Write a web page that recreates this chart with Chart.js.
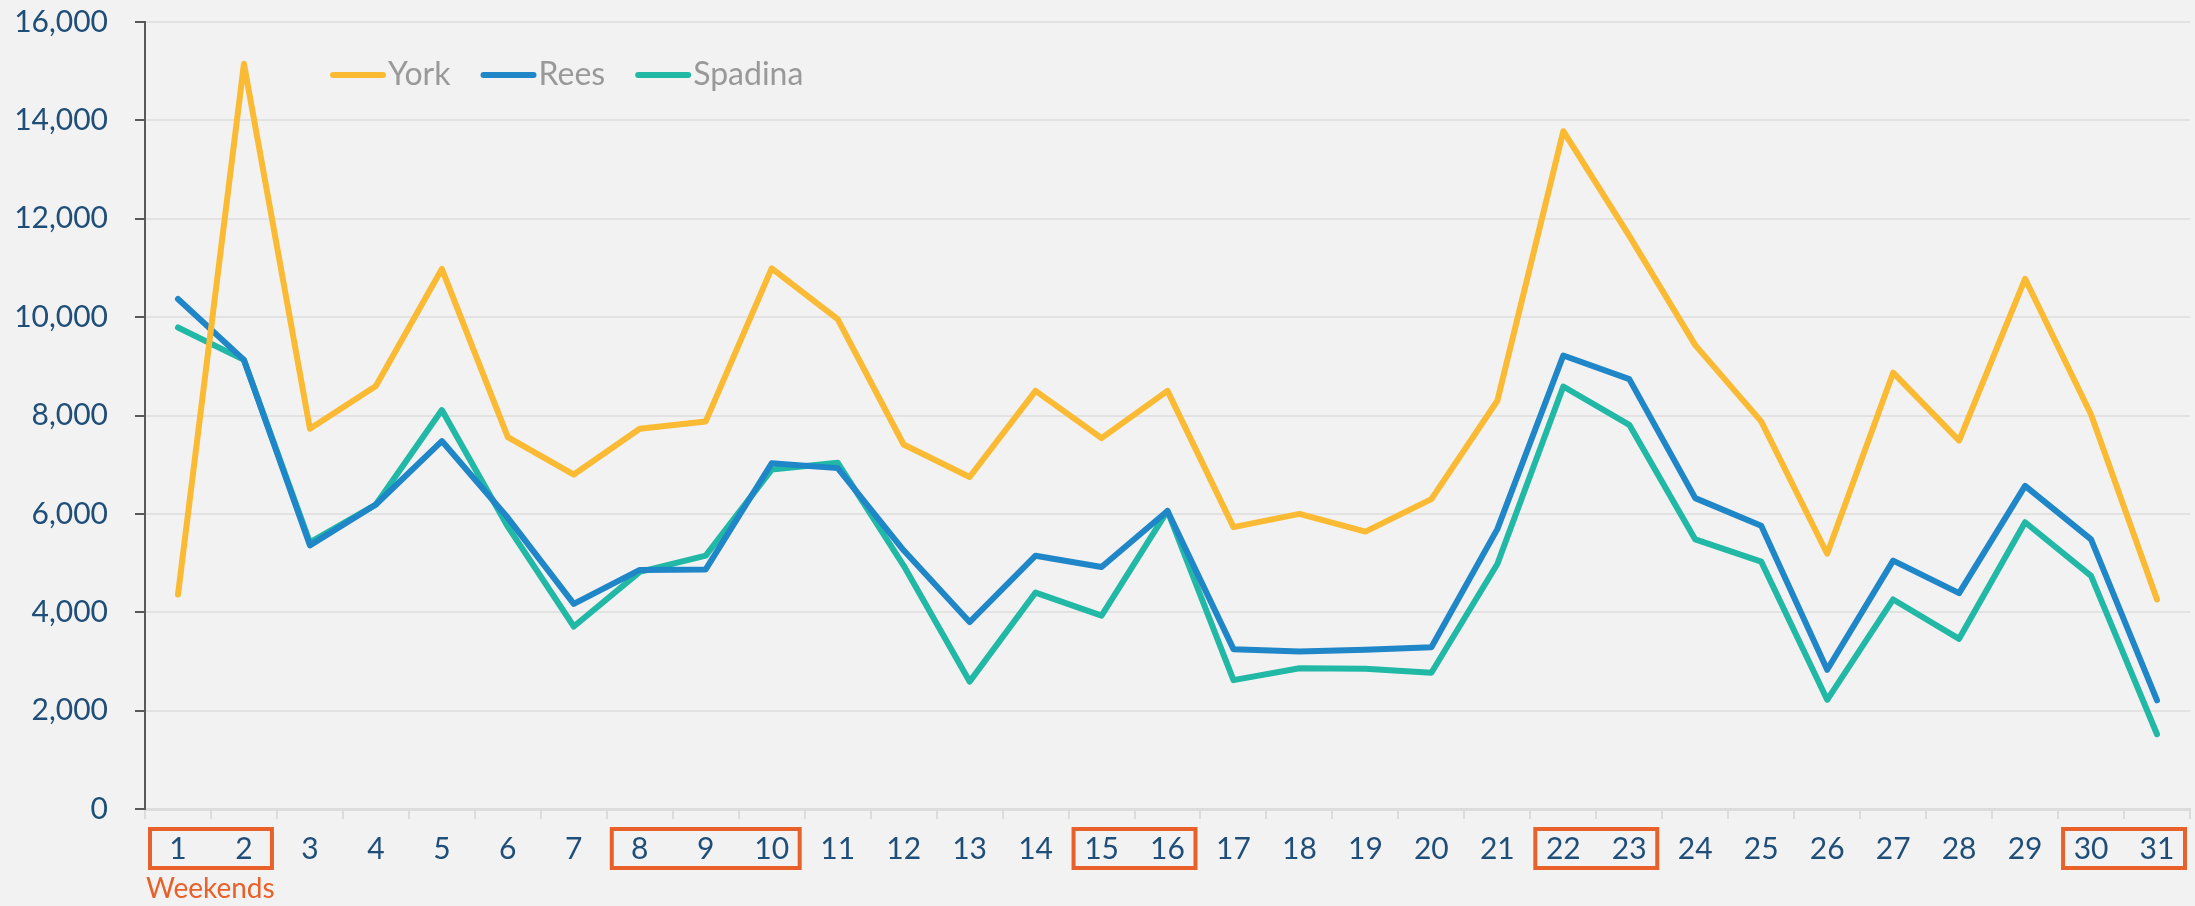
<!DOCTYPE html>
<html>
<head>
<meta charset="utf-8">
<script src="https://cdn.jsdelivr.net/npm/chart.js@4"></script>
<style>
  html, body { margin: 0; padding: 0; background: #f2f2f2; }
  #wrap { width: 2195px; height: 906px; }
</style>
</head>
<body>
<div id="wrap"><canvas id="chart1" width="2195" height="906"></canvas></div>
<script>
'use strict';
var DAYS = ['1','2','3','4','5','6','7','8','9','10','11','12','13','14','15','16','17','18','19','20','21','22','23','24','25','26','27','28','29','30','31'];
var YORK = [4360, 15150, 7730, 8600, 10980, 7560, 6800, 7730, 7880, 10990, 9960, 7410, 6750, 8500, 7540, 8500, 5730, 6000, 5640, 6300, 8300, 13780, 11650, 9430, 7880, 5190, 8870, 7490, 10780, 8020, 4260];
var REES = [10370, 9130, 5360, 6190, 7480, 5920, 4170, 4860, 4870, 7030, 6930, 5260, 3800, 5150, 4920, 6060, 3250, 3200, 3240, 3290, 5690, 9220, 8740, 6320, 5760, 2830, 5050, 4390, 6570, 5480, 2210];
var SPADINA = [9790, 9130, 5420, 6190, 8110, 5740, 3710, 4820, 5150, 6900, 7040, 4950, 2590, 4400, 3930, 6060, 2620, 2860, 2850, 2770, 4980, 8590, 7810, 5480, 5030, 2220, 4260, 3460, 5830, 4740, 1520];
// weekend groups: first and last day label
var WEEKENDS = [['1','2'], ['8','10'], ['15','16'], ['22','23'], ['30','31']];

var COLORS = ['#FBBA33', '#1F86C8', '#21B8A6'];
var TICK_COLOR = '#1F4E79';
var FONT = 'Lato, "Open Sans", sans-serif';

var bgPlugin = {
    id: 'bg',
    beforeDraw: function (chart) {
        var c = chart.ctx;
        c.save();
        c.fillStyle = '#f2f2f2';
        c.fillRect(0, 0, chart.width, chart.height);
        c.restore();
    }
};

var extrasPlugin = {
    id: 'extras',
    afterDraw: function (chart) {
        var c = chart.ctx;
        var x = chart.scales.x;
        var area = chart.chartArea;
        var half = (x.getPixelForValue(1) - x.getPixelForValue(0)) / 2;
        c.save();
        // weekend boxes
        c.strokeStyle = '#E8602A';
        c.lineWidth = 4;
        WEEKENDS.forEach(function (w) {
            var l = x.getPixelForValue(DAYS.indexOf(w[0])) - half + 5;
            var r = x.getPixelForValue(DAYS.indexOf(w[1])) + half - 5;
            c.strokeRect(l, area.bottom + 20, r - l, 39);
        });
        c.fillStyle = '#E8602A';
        c.font = '28px ' + FONT;
        c.textBaseline = 'middle';
        c.textAlign = 'left';
        c.fillText('Weekends', area.left + 1, area.bottom + 80);

        // legend inside plot
        c.font = '32px ' + FONT;
        var lx = 330, ly = 75;
        chart.data.datasets.forEach(function (ds) {
            c.strokeStyle = ds.borderColor;
            c.lineWidth = 6;
            c.lineCap = 'round';
            c.beginPath();
            c.moveTo(lx + 3, ly);
            c.lineTo(lx + 53, ly);
            c.stroke();
            c.fillStyle = '#999999';
            c.fillText(ds.label, lx + 58, ly);
            lx += 58 + c.measureText(ds.label).width + 30;
        });
        c.restore();
    }
};

var ctx = document.getElementById('chart1').getContext('2d');
new Chart(ctx, {
    type: 'line',
    data: {
        labels: DAYS,
        datasets: [
            { label: 'York', data: YORK, borderColor: COLORS[0], backgroundColor: COLORS[0] },
            { label: 'Rees', data: REES, borderColor: COLORS[1], backgroundColor: COLORS[1] },
            { label: 'Spadina', data: SPADINA, borderColor: COLORS[2], backgroundColor: COLORS[2] }
        ]
    },
    options: {
        responsive: false,
        animation: false,
        layout: { padding: { left: 0, right: 5, top: 0, bottom: 0 } },
        elements: {
            line: { borderWidth: 6, tension: 0, borderCapStyle: 'round', borderJoinStyle: 'round' },
            point: { radius: 0 }
        },
        plugins: {
            legend: { display: false },
            tooltip: { enabled: false }
        },
        scales: {
            x: {
                offset: true,
                grid: { offset: true, drawOnChartArea: false, drawTicks: true, tickLength: 10, tickColor: '#dcdcdc', lineWidth: 2 },
                border: { color: '#dcdcdc', width: 3 },
                ticks: { color: TICK_COLOR, font: { family: FONT, size: 30 }, padding: 12, maxRotation: 0, autoSkip: false },
                afterFit: function (s) { s.height = 97; }
            },
            y: {
                min: 0,
                max: 16000,
                ticks: {
                    stepSize: 2000,
                    color: TICK_COLOR,
                    font: { family: FONT, size: 30 },
                    padding: 27,
                    callback: function (v) { return v.toLocaleString('en-US'); }
                },
                grid: { color: '#e2e2e2', lineWidth: 2, tickLength: 10, tickColor: '#595959' },
                border: { color: '#595959', width: 2 },
                afterFit: function (s) {
                    s.width = 145;
                    s.paddingTop = 22;
                    s.paddingBottom = 0;
                }
            }
        }
    },
    plugins: [bgPlugin, extrasPlugin]
});
</script>
</body>
</html>
